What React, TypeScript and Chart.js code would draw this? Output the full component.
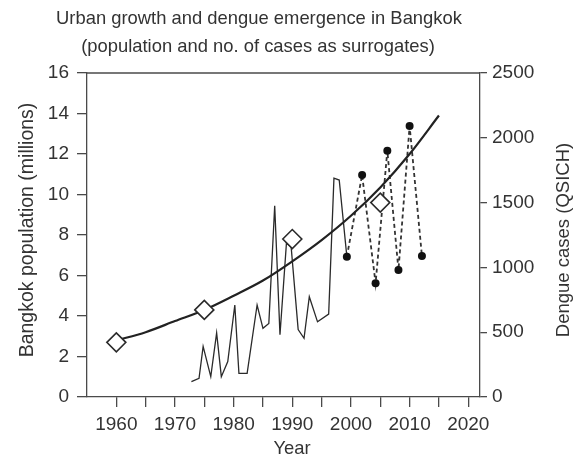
import React, { useEffect, useRef } from 'react';
import { Chart, registerables } from 'chart.js';

Chart.register(...registerables);

// Population fit curve (millions)
const popCurveYears = [1960, 1965, 1970, 1975, 1980, 1985, 1990, 1995, 2000, 2005, 2010, 2015];
const popCurveValues = [2.8, 3.2, 3.75, 4.3, 5.0, 5.75, 6.7, 7.75, 8.95, 10.35, 12.0, 13.9];

// Census population points (diamonds)
const censusYears = [1960, 1975, 1990, 2005];
const censusValues = [2.7, 4.3, 7.8, 9.6];

// Dengue cases (QSICH), solid line
const dengueYears = [1972.8, 1974.1, 1974.8, 1976.1, 1977.1, 1977.9, 1979.0, 1980.2, 1980.9, 1982.3, 1984.0, 1985.0, 1986.0, 1987.0, 1987.9, 1989.0, 1989.8, 1991.0, 1992.0, 1992.9, 1994.3, 1996.2, 1997.1, 1998.0, 1999.3];
const dengueCases = [118, 144, 390, 157, 494, 157, 273, 710, 183, 183, 710, 530, 568, 1475, 480, 1186, 1160, 520, 453, 774, 580, 640, 1688, 1674, 1083];

// Dengue cases, dashed line with dots
const dengueDashYears = [1999.3, 2001.9, 2004.2, 2006.2, 2008.1, 2010.0, 2012.1];
const dengueDashCases = [1083, 1713, 877, 1901, 980, 2091, 1088];

// Axis ticks
const xTickValues = [1960, 1965, 1970, 1975, 1980, 1985, 1990, 1995, 2000, 2005, 2010, 2015, 2020];
const titleLines = ['Urban growth and dengue emergence in Bangkok', '(population and no. of cases as surrogates)'];
const leftTitle = 'Bangkok population (millions)';
const rightTitle = 'Dengue cases (QSICH)';
const xTitle = 'Year';

const FONT = '"Liberation Sans", Arial, sans-serif';
const TEXT = '#333333';
const AXIS = '#4a4a4a';

const zip = (xs: number[], ys: number[]) => xs.map((x, i) => ({ x, y: ys[i] }));

const textPlugin = {
  id: 'textPlugin',
  afterDraw(chart: any) {
    const ctx = chart.ctx;
    const ca = chart.chartArea;
    ctx.save();
    // top frame line
    ctx.strokeStyle = AXIS;
    ctx.lineWidth = 1.3;
    ctx.beginPath();
    ctx.moveTo(ca.left, ca.top);
    ctx.lineTo(ca.right, ca.top);
    ctx.stroke();

    ctx.fillStyle = TEXT;
    ctx.textAlign = 'center';
    ctx.textBaseline = 'middle';
    ctx.font = `18.4px ${FONT}`;
    ctx.fillText(titleLines[0], 259, 19);
    ctx.fillText(titleLines[1], 258, 47);
    ctx.fillText(xTitle, 292, 449);

    ctx.save();
    ctx.font = `19.5px ${FONT}`;
    ctx.translate(28, 230);
    ctx.rotate(-Math.PI / 2);
    ctx.fillText(leftTitle, 0, 0);
    ctx.restore();

    ctx.save();
    ctx.font = `18.5px ${FONT}`;
    ctx.translate(564, 240);
    ctx.rotate(-Math.PI / 2);
    ctx.fillText(rightTitle, 0, 0);
    ctx.restore();

    ctx.restore();
  },
};

export default function App() {
  const ref = useRef<HTMLCanvasElement | null>(null);

  useEffect(() => {
    if (!ref.current) return;
    const tickFont = { family: FONT, size: 19 };
    const chart = new Chart(ref.current, {
      type: 'line',
      data: {
        datasets: [
          {
            label: 'census',
            data: zip(censusYears, censusValues),
            yAxisID: 'y',
            showLine: false,
            pointStyle: 'rectRot',
            pointRadius: 9.5,
            pointBackgroundColor: '#ffffff',
            pointBorderColor: '#2a2a2a',
            pointBorderWidth: 1.6,
            order: 0,
          },
          {
            label: 'fit',
            data: zip(popCurveYears, popCurveValues),
            yAxisID: 'y',
            borderColor: '#222222',
            borderWidth: 2.2,
            pointRadius: 0,
            cubicInterpolationMode: 'monotone',
            fill: false,
            order: 1,
          },
          {
            label: 'dengue dashed',
            data: zip(dengueDashYears, dengueDashCases),
            yAxisID: 'y1',
            borderColor: '#333333',
            borderWidth: 1.8,
            borderDash: [4, 3],
            pointRadius: 4,
            pointBackgroundColor: '#111111',
            pointBorderColor: '#111111',
            pointBorderWidth: 0,
            fill: false,
            order: 2,
          },
          {
            label: 'dengue',
            data: zip(dengueYears, dengueCases),
            yAxisID: 'y1',
            borderColor: '#2a2a2a',
            borderWidth: 1.3,
            pointRadius: 0,
            tension: 0,
            fill: false,
            order: 3,
          },
        ],
      },
      options: {
        responsive: false,
        animation: false,
        devicePixelRatio: 1,
        layout: { padding: { top: 73, left: 0, right: 0, bottom: 0 } },
        plugins: {
          legend: { display: false },
          title: { display: false },
          tooltip: { enabled: false },
        },
        scales: {
          x: {
            type: 'linear',
            min: 1955,
            max: 2022,
            afterBuildTicks: (s: any) => {
              s.ticks = xTickValues.map((v) => ({ value: v }));
            },
            afterFit: (s: any) => {
              s.height = 457 - 397;
            },
            ticks: {
              autoSkip: false,
              maxRotation: 0,
              padding: 6,
              color: TEXT,
              font: tickFont,
              callback: (v: any) => (Number(v) % 10 === 0 ? String(v) : ''),
            },
            grid: { display: true, drawOnChartArea: false, drawTicks: true, tickLength: 10, color: AXIS, lineWidth: 1.3 },
            border: { display: true, color: AXIS, width: 1.3 },
          },
          y: {
            type: 'linear',
            position: 'left',
            min: 0,
            max: 16,
            afterFit: (s: any) => {
              s.width = 87;
            },
            ticks: { stepSize: 2, padding: 8, color: TEXT, font: tickFont, callback: (v: any) => String(v) },
            grid: { display: true, drawOnChartArea: false, drawTicks: true, tickLength: 10, color: AXIS, lineWidth: 1.3 },
            border: { display: true, color: AXIS, width: 1.3 },
          },
          y1: {
            type: 'linear',
            position: 'right',
            min: 0,
            max: 2500,
            afterFit: (s: any) => {
              s.width = 573 - 480;
            },
            ticks: { stepSize: 500, padding: 5, color: TEXT, font: tickFont, callback: (v: any) => String(v) },
            grid: { display: true, drawOnChartArea: false, drawTicks: true, tickLength: 7, color: AXIS, lineWidth: 1.3 },
            border: { display: true, color: AXIS, width: 1.3 },
          },
        },
      },
      plugins: [textPlugin],
    } as any);
    return () => chart.destroy();
  }, []);

  return (
    <div style={{ position: 'fixed', left: 0, top: 0, width: 573, height: 457, background: '#ffffff' }}>
      <canvas ref={ref} width={573} height={457} style={{ display: 'block', width: 573, height: 457 }} />
    </div>
  );
}
